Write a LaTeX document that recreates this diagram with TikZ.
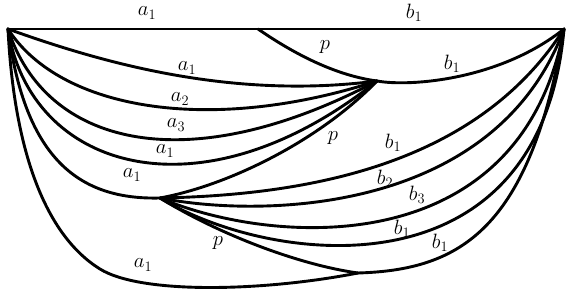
\documentclass[tikz,border=0pt]{standalone}
\begin{document}
\begin{tikzpicture}[x=1pt,y=-1pt,
  edge/.style={line width=2.9pt, line cap=round, line join=round},
  lab/.style={font=\fontsize{21}{25}\selectfont, inner sep=0pt}]
\useasboundingbox (0,0) rectangle (572,296);
% vertices
\coordinate (L) at (8,29);
\coordinate (R) at (564,29);
\coordinate (T) at (258,29);
\coordinate (P) at (377,81);
\coordinate (Q) at (160,198);
\coordinate (S) at (358,273);
\coordinate (M) at (100,269);
% top line
\draw[edge] (L) -- (T);
\draw[edge] (T) -- (R);
\draw[edge] (T) .. controls (300,58) and (340,76) .. (P);
\draw[edge] (P) .. controls (410,87) and (500,80) .. (R);
% L to P
\draw[edge] (L) .. controls (100,62) and (230,100) .. (P);
\draw[edge] (L) .. controls (60,110) and (210,135) .. (P);
\draw[edge] (L) .. controls (45,145) and (185,182) .. (P);
\draw[edge] (L) .. controls (30,170) and (200,222) .. (P);
% L to Q
\draw[edge] (L) .. controls (25,160) and (80,200) .. (Q);
% Q to P
\draw[edge] (Q) .. controls (230,185) and (320,140) .. (P);
% Q to R
\draw[edge] (Q) .. controls (320,195) and (480,160) .. (R);
\draw[edge] (Q) .. controls (260,218) and (495,215) .. (R);
\draw[edge] (Q) .. controls (270,245) and (520,265) .. (R);
\draw[edge] (Q) .. controls (270,265) and (540,300) .. (R);
% Q to S
\draw[edge] (Q) .. controls (220,235) and (300,265) .. (S);
% L to S
\draw[edge] (L) .. controls (14,150) and (45,235) .. (M)
                .. controls (140,294) and (260,292) .. (S);
% S to R
\draw[edge] (S) .. controls (460,270) and (530,230) .. (R);
% labels
\node[lab] (l1) at (147,13) {$a_1$};
\node[lab] (l2) at (414,13) {$b_1$};
\node[lab] (l3) at (325,47) {$p$};
\node[lab] (l4) at (452,64) {$b_1$};
\node[lab] (l5) at (187,68) {$a_1$};
\node[lab] (l6) at (180,99) {$a_2$};
\node[lab] (l7) at (176,125) {$a_3$};
\node[lab] (l8) at (165,151) {$a_1$};
\node[lab] (l9) at (132,175) {$a_1$};
\node[lab] (l10) at (333,138) {$p$};
\node[lab] (l11) at (393,143) {$b_1$};
\node[lab] (l12) at (385,179) {$b_2$};
\node[lab] (l13) at (417,195) {$b_3$};
\node[lab] (l14) at (402,229) {$b_1$};
\node[lab] (l15) at (440,243) {$b_1$};
\node[lab] (l16) at (218,243) {$p$};
\node[lab] (l17) at (143,265) {$a_1$};
\end{tikzpicture}
\end{document}
